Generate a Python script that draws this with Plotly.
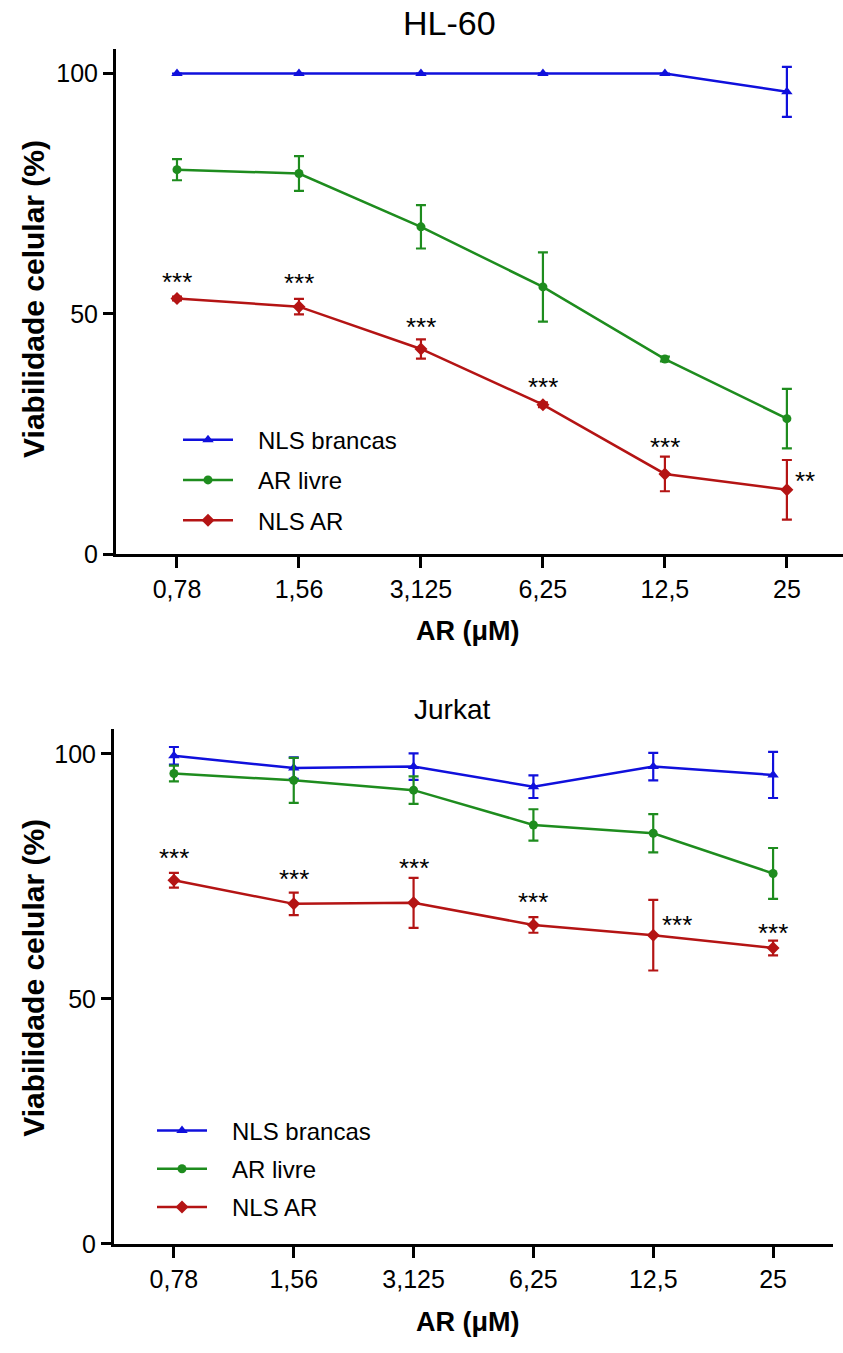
import plotly.graph_objects as go

conc = ["0,78", "1,56", "3,125", "6,25", "12,5", "25"]
series_names = ["NLS brancas", "AR livre", "NLS AR"]

# HL-60
hl_brancas = [100, 100, 100, 100, 100, 96.2]
hl_brancas_err = [0, 0, 0, 0, 0, 5.2]
hl_livre = [80.0, 79.2, 68.1, 55.6, 40.6, 28.2]
hl_livre_err = [2.2, 3.6, 4.5, 7.2, 0.5, 6.2]
hl_nlsar = [53.2, 51.5, 42.7, 31.1, 16.7, 13.4]
hl_nlsar_err = [0.4, 1.6, 2.0, 0.5, 3.6, 6.2]
hl_stars = ["***", "***", "***", "***", "***", "**"]
hl_star_y = [58.1, 57.8, 48.8, 36.2, 23.8, 16.7]

# Jurkat
jk_brancas = [99.6, 97.1, 97.4, 93.3, 97.4, 95.7]
jk_brancas_err = [1.8, 2.2, 2.7, 2.3, 2.8, 4.7]
jk_livre = [96.0, 94.6, 92.6, 85.5, 83.8, 75.6]
jk_livre_err = [1.6, 4.6, 2.8, 3.2, 3.9, 5.2]
jk_nlsar = [74.2, 69.4, 69.6, 65.1, 63.0, 60.4]
jk_nlsar_err = [1.5, 2.3, 5.1, 1.6, 7.2, 1.5]
jk_stars = ["***", "***", "***", "***", "***", "***"]
jk_star_y = [80.1, 76.0, 78.2, 71.3, 66.5, 64.8]

colors = ["#1010dc", "#1e8c1e", "#b41414"]
symbols = ["triangle-up", "circle", "diamond"]
msizes = [10, 9, 10]

FONT = "Liberation Sans, Arial, sans-serif"
PAD = "\u00a0\u00a0\u00a0"

W, H = 843, 1353
fig = go.Figure()

def add_panel(data, errs, xa, ya, legend, tag):
    for i in range(3):
        fig.add_trace(go.Scatter(
            x=conc, y=data[i], name=PAD + series_names[i], mode="lines+markers",
            xaxis=xa, yaxis=ya, legend=legend, legendgroup=f"{tag}{i}",
            line=dict(color=colors[i], width=2.5),
            marker=dict(symbol=symbols[i], size=msizes[i], color=colors[i]),
            error_y=dict(type="data", array=errs[i], visible=True,
                         color=colors[i], thickness=2.2, width=5),
        ))

add_panel([hl_brancas, hl_livre, hl_nlsar],
          [hl_brancas_err, hl_livre_err, hl_nlsar_err], "x", "y", "legend", "a")
add_panel([jk_brancas, jk_livre, jk_nlsar],
          [jk_brancas_err, jk_livre_err, jk_nlsar_err], "x2", "y2", "legend2", "b")

ann = []
star_font = dict(family=FONT, size=26, color="black")
for i, c in enumerate(conc):
    xs = 0.15 if i == 5 else 0
    ann.append(dict(x=i + xs, y=hl_star_y[i], xref="x", yref="y", text=hl_stars[i],
                    showarrow=False, font=star_font, yshift=-7))
for i, c in enumerate(conc):
    xs = 0.2 if i == 4 else 0
    ann.append(dict(x=i + xs, y=jk_star_y[i], xref="x2", yref="y2", text=jk_stars[i],
                    showarrow=False, font=star_font, yshift=-7))

def pann(x, y, text, size, angle=0):
    return dict(x=x / W, y=1 - y / H, xref="paper", yref="paper", text=text,
                textangle=angle, xanchor="center", yanchor="middle",
                showarrow=False, font=dict(family=FONT, size=size, color="black"))

ann.append(pann(450, 23, "HL-60", 34))
ann.append(pann(452, 717, "Jurkat", 28))
ann.append(pann(34, 302, "<b>Viabilidade celular (%)</b>", 30, -90))
ann.append(pann(34, 988, "<b>Viabilidade celular (%)</b>", 30, -90))
ann.append(pann(468, 638, "<b>AR (μM)</b>", 27))
ann.append(pann(468, 1336, "<b>AR (μM)</b>", 27))

axis_common = dict(showline=True, linecolor="black", linewidth=3, ticks="outside",
                   tickcolor="black", tickwidth=3, showgrid=False, zeroline=False,
                   tickfont=dict(family=FONT, size=25, color="black"))

legend_common = dict(xanchor="left", yanchor="top",
                     font=dict(family=FONT, size=24, color="black"),
                     bgcolor="rgba(0,0,0,0)", itemwidth=50)

fig.update_layout(
    width=W, height=H, margin=dict(l=0, r=0, t=0, b=0),
    paper_bgcolor="white", plot_bgcolor="white",
    xaxis=dict(domain=[116 / W, 1.0], range=[-0.5, 5.46], anchor="y",
               type="category", ticklen=11, **axis_common),
    yaxis=dict(domain=[1 - 560 / H, 1 - 50 / H], range=[0, 105], anchor="x",
               tickvals=[0, 50, 100], ticklen=10, **axis_common),
    xaxis2=dict(domain=[114 / W, 833 / W], range=[-0.5, 5.5], anchor="y2",
                type="category", ticklen=11, **axis_common),
    yaxis2=dict(domain=[1 - 1257 / H, 1 - 737 / H], range=[0, 105], anchor="x2",
                tickvals=[0, 50, 100], ticklen=10, **axis_common),
    legend=dict(x=178 / W, y=1 - 422 / H, tracegroupgap=6, **legend_common),
    legend2=dict(x=152 / W, y=1 - 1120 / H, tracegroupgap=4, **legend_common),
    annotations=ann,
    showlegend=True,
)

fig.write_html("out.html")
